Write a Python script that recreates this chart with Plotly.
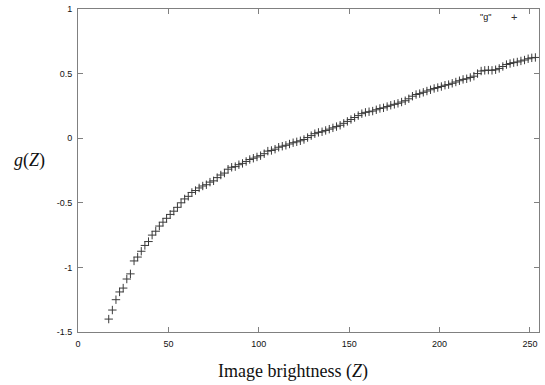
import plotly.graph_objects as go

z_values = list(range(17, 254, 2))
g_values = [
    -1.40, -1.33, -1.25, -1.19, -1.16, -1.09, -1.05, -0.95, -0.92, -0.875,
    -0.83, -0.80, -0.75, -0.72, -0.68, -0.65, -0.62, -0.59, -0.565, -0.535,
    -0.50, -0.47, -0.45, -0.42, -0.405, -0.385, -0.37, -0.36, -0.34, -0.33,
    -0.305, -0.285, -0.27, -0.24, -0.225, -0.22, -0.205, -0.195, -0.18, -0.165,
    -0.155, -0.145, -0.135, -0.12, -0.10, -0.095, -0.085, -0.07, -0.062, -0.055,
    -0.045, -0.035, -0.028, -0.02, -0.01, 0.005, 0.02, 0.035, 0.045, 0.05,
    0.06, 0.07, 0.08, 0.09, 0.10, 0.115, 0.13, 0.145, 0.16, 0.175,
    0.19, 0.20, 0.205, 0.21, 0.22, 0.23, 0.235, 0.245, 0.255, 0.262,
    0.27, 0.28, 0.29, 0.305, 0.325, 0.338, 0.345, 0.355, 0.365, 0.375,
    0.385, 0.392, 0.40, 0.41, 0.415, 0.425, 0.435, 0.445, 0.455, 0.46,
    0.47, 0.48, 0.50, 0.52, 0.525, 0.527, 0.525, 0.53, 0.54, 0.555,
    0.57, 0.578, 0.585, 0.59, 0.598, 0.605, 0.615, 0.622, 0.625,
]
x_ticks = [0, 50, 100, 150, 200, 250]
y_ticks = [-1.5, -1, -0.5, 0, 0.5, 1]
y_tick_labels = ["-1.5", "-1", "-0.5", "0", "0.5", "1"]
series_name = '"g"'

fig = go.Figure()
fig.add_trace(go.Scatter(
    x=z_values, y=g_values, mode="markers", name=series_name,
    marker=dict(symbol="cross-thin-open", size=6, color="#3a3a3a",
                line=dict(width=1, color="#3a3a3a")),
    showlegend=False,
))

axis_common = dict(
    showline=True, linecolor="#808080", linewidth=1, mirror="ticks",
    ticks="inside", ticklen=5, tickcolor="#808080", tickwidth=1,
    showgrid=False, zeroline=False,
    tickfont=dict(family="Liberation Sans, Arial", size=9, color="#111111"),
)

PL, PR, PT, PB = 77.5, 539, 8.5, 332
PW, PH = PR - PL, PB - PT

fig.update_layout(
    width=545, height=385,
    margin=dict(l=PL, r=545 - PR, t=PT, b=385 - PB, autoexpand=False),
    paper_bgcolor="white", plot_bgcolor="white",
    xaxis=dict(range=[0, 255], tickvals=x_ticks, ticklabelstandoff=3, **axis_common),
    yaxis=dict(range=[-1.5, 1], tickvals=y_ticks, ticktext=y_tick_labels,
               ticklabelstandoff=3, **axis_common),
    annotations=[
        dict(xref="paper", yref="paper", x=(293 - PL) / PW, y=-(371.5 - PB) / PH,
             text="Image brightness (<i>Z</i>)", showarrow=False,
             font=dict(family="Liberation Serif, Times New Roman", size=18, color="#111111"),
             xanchor="center", yanchor="middle"),
        dict(xref="paper", yref="paper", x=-(PL - 29) / PW, y=(PB - 160) / PH,
             text="<i>g</i>(<i>Z</i>)", showarrow=False,
             font=dict(family="Liberation Serif, Times New Roman", size=18, color="#111111"),
             xanchor="center", yanchor="middle"),
        dict(xref="paper", yref="paper", x=(493 - PL) / PW, y=(PB - 17) / PH,
             text=series_name, showarrow=False,
             font=dict(family="Liberation Sans, Arial", size=9, color="#111111"),
             xanchor="right", yanchor="middle"),
        dict(xref="paper", yref="paper", x=(514 - PL) / PW, y=(PB - 17) / PH,
             text="+", showarrow=False,
             font=dict(family="Liberation Sans, Arial", size=11, color="#333333"),
             xanchor="center", yanchor="middle"),
    ],
)

fig.write_html("out.html", config={"displayModeBar": False},
               post_script="document.body.style.margin='0';")
